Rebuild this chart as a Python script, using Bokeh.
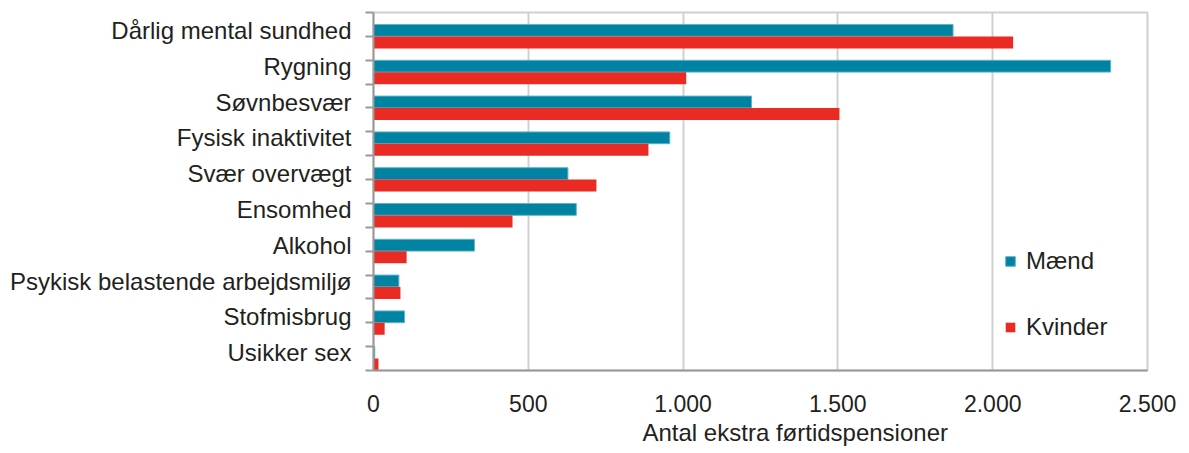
from bokeh.plotting import figure
from bokeh.models import ColumnDataSource, Range1d, FixedTicker, Legend, LegendItem, Title
from bokeh.transform import dodge
from bokeh.embed import file_html
from bokeh.resources import INLINE

categories = ["Dårlig mental sundhed", "Rygning", "Søvnbesvær", "Fysisk inaktivitet",
              "Svær overvægt", "Ensomhed", "Alkohol", "Psykisk belastende arbejdsmiljø",
              "Stofmisbrug", "Usikker sex"]
maend = [1872, 2381, 1221, 957, 628, 655, 326, 82, 100, 4]
kvinder = [2066, 1010, 1505, 888, 720, 449, 107, 87, 36, 16]
series_names = ["Mænd", "Kvinder"]
x_ticks = [0, 500, 1000, 1500, 2000, 2500]
x_tick_labels = ["0", "500", "1.000", "1.500", "2.000", "2.500"]
x_title = "Antal ekstra førtidspensioner"

FONT = "Liberation Sans"
TEXT = "#231f20"
C_M = "#0082a3"
C_K = "#e92b24"

n = len(categories)
ypos = [n - 1 - i for i in range(n)]
src = ColumnDataSource(dict(y=ypos, m=maend, k=kvinder))

p = figure(width=1181, height=453, output_backend="svg", toolbar_location=None,
           x_range=Range1d(0, 2500), y_range=Range1d(-0.5, n - 0.5),
           min_border_left=373, min_border_right=34, min_border_top=12, min_border_bottom=83)

rm = p.hbar(y="y", left=0, right="m", height=0.33, source=src, fill_color=C_M,
            line_color="#62b3c8", line_width=1)
rk = p.hbar(y=dodge("y", -0.335), left=0, right="k", height=0.335, source=src,
            fill_color=C_K, line_color=None)

# x axis
p.xaxis.ticker = FixedTicker(ticks=x_ticks)
p.xaxis.major_label_overrides = {t: l for t, l in zip(x_ticks, x_tick_labels)}
p.xaxis.major_tick_out = 0
p.xaxis.major_tick_in = 0
p.xaxis.minor_tick_out = 0
p.xaxis.minor_tick_in = 0
p.xaxis.axis_line_color = "#9a9a9a"
p.xaxis.axis_line_width = 2
p.xaxis.major_label_text_font = FONT
p.xaxis.major_label_text_font_size = "23px"
p.xaxis.major_label_text_color = TEXT
p.xaxis.major_label_standoff = 24

# axis title (placed below, shifted right as in the reference)
xt = Title(text=x_title, align="left", offset=269, standoff=4,
           text_font=FONT, text_font_size="24px", text_font_style="normal",
           text_color=TEXT)
p.add_layout(xt, "below")

# y axis
minor = [-0.5 + k * 2.0 / 3.0 for k in range(16)]
p.yaxis.ticker = FixedTicker(ticks=ypos, minor_ticks=minor)
p.yaxis.major_label_overrides = {y: c for y, c in zip(ypos, categories)}
p.yaxis.major_tick_out = 8
p.yaxis.major_tick_in = 0
p.yaxis.major_tick_line_color = None
p.yaxis.minor_tick_out = 8
p.yaxis.minor_tick_in = 0
p.yaxis.minor_tick_line_color = "#9a9a9a"
p.yaxis.minor_tick_line_width = 2
p.yaxis.axis_line_color = "#9a9a9a"
p.yaxis.axis_line_width = 2
p.yaxis.major_label_text_font = FONT
p.yaxis.major_label_text_font_size = "24px"
p.yaxis.major_label_text_color = TEXT
p.yaxis.major_label_standoff = 14

# grid
p.ygrid.grid_line_color = None
p.xgrid.grid_line_color = "#d0d0d0"
p.xgrid.grid_line_width = 2
p.outline_line_color = "#d0d0d0"
p.outline_line_width = 2

legend = Legend(items=[LegendItem(label=series_names[0], renderers=[rm]),
                       LegendItem(label=series_names[1], renderers=[rk])],
                location=(631, 28), orientation="vertical",
                glyph_width=12, glyph_height=12, label_height=30, spacing=36,
                label_standoff=10, padding=0, margin=0,
                border_line_color=None, background_fill_alpha=0,
                label_text_font=FONT, label_text_font_size="24px",
                label_text_color=TEXT)
p.add_layout(legend)

open("out.html", "w").write(file_html(p, INLINE))
